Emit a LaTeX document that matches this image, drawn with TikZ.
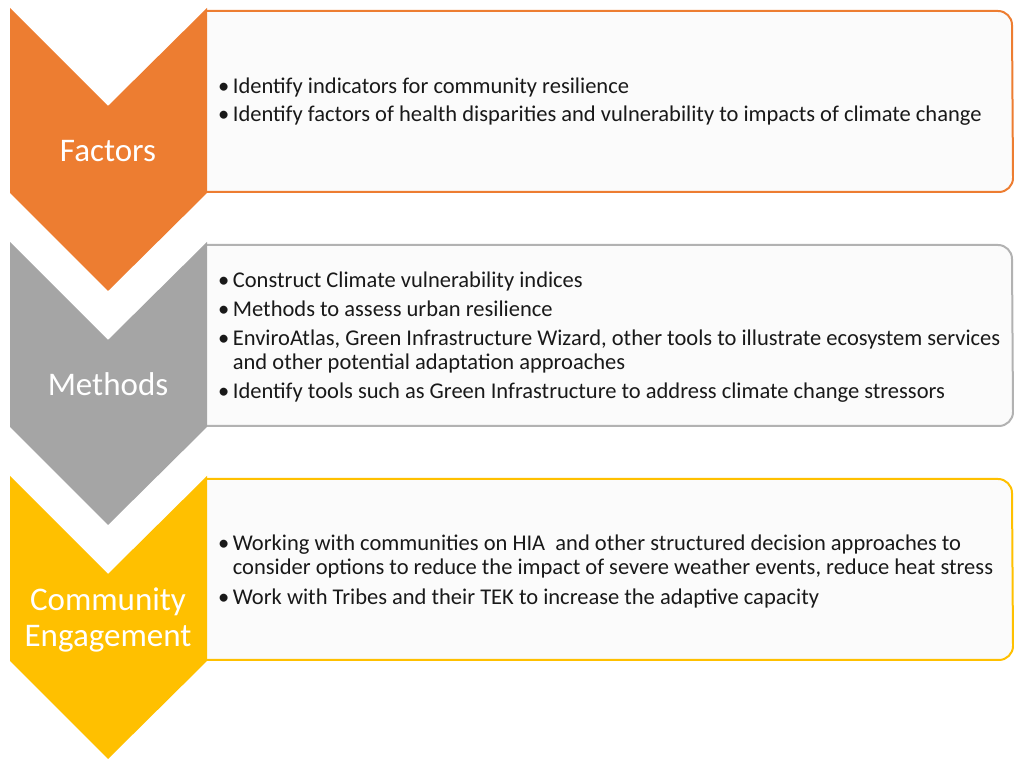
\documentclass[tikz,border=0pt]{standalone}
\usepackage{fontspec}
\setmainfont{Carlito}
\usepackage{xcolor}
\definecolor{factorsorange}{RGB}{237,125,49}
\definecolor{methodsgrey}{RGB}{165,165,165}
\definecolor{engageyellow}{RGB}{255,192,0}
\definecolor{boxfill}{RGB}{251,251,251}
\usepackage{tikz}
\usetikzlibrary{positioning}

\begin{document}
\begin{tikzpicture}[x=1pt,y=1pt,
    chevron/.style={fill=#1},
    listbox/.style={draw=#1,line width=2pt,fill=boxfill},
    steplabel/.style={text=white,align=center,font=\fontsize{33}{36}\selectfont},
    itemtext/.style={anchor=west,inner sep=0pt,text=black!90,font=\fontsize{22.5}{24}\selectfont}]
  \useasboundingbox (0,0) rectangle (1014,759);

  % Factors
  \begin{scope}[yshift=751pt]
    \filldraw[listbox=factorsorange] (207,-3) -- (998,-3) arc[start angle=90,end angle=0,radius=14]
      -- (1013,-170) arc[start angle=0,end angle=-90,radius=14] -- (207,-184);
    \fill[chevron=factorsorange] (10,0) -- (108,-98) -- (207,0) -- (207,-185) -- (108,-283) -- (10,-185) -- cycle;
    \node[steplabel] (factors) at (108,-143) {Factors};
    \node[itemtext] (factorslist) at (218,-95) {%
      \begin{tabular}{@{}l@{\hspace{3.5pt}}l@{}}
        \textbullet & Identify indicators for community resilience \\[4pt]
        \textbullet & Identify factors of health disparities and vulnerability to impacts of climate change \\
      \end{tabular}};
  \end{scope}

  % Methods
  \begin{scope}[yshift=517pt]
    \filldraw[listbox=methodsgrey!85] (207,-3) -- (998,-3) arc[start angle=90,end angle=0,radius=14]
      -- (1013,-170) arc[start angle=0,end angle=-90,radius=14] -- (207,-184);
    \fill[chevron=methodsgrey] (10,0) -- (108,-98) -- (207,0) -- (207,-185) -- (108,-283) -- (10,-185) -- cycle;
    \node[steplabel] (methods) at (108,-142) {Methods};
    \node[itemtext] (methodslist) at (218,-96) {%
      \begin{tabular}{@{}l@{\hspace{3.5pt}}l@{}}
        \textbullet & Construct Climate vulnerability indices \\[5pt]
        \textbullet & Methods to assess urban resilience \\[5pt]
        \textbullet & EnviroAtlas, Green Infrastructure Wizard, other tools to illustrate ecosystem services \\
                    & and other potential adaptation approaches \\[5pt]
        \textbullet & Identify tools such as Green Infrastructure to address climate change stressors \\
      \end{tabular}};
  \end{scope}

  % Community Engagement
  \begin{scope}[yshift=283pt]
    \filldraw[listbox=engageyellow] (207,-3) -- (998,-3) arc[start angle=90,end angle=0,radius=14]
      -- (1013,-170) arc[start angle=0,end angle=-90,radius=14] -- (207,-184);
    \fill[chevron=engageyellow] (10,0) -- (108,-98) -- (207,0) -- (207,-185) -- (108,-283) -- (10,-185) -- cycle;
    \node[steplabel] (engagement) at (108,-144) {Community\\Engagement};
    \node[itemtext] (engagementlist) at (218,-97) {%
      \begin{tabular}{@{}l@{\hspace{3.5pt}}l@{}}
        \textbullet & Working with communities on HIA \ and other structured decision approaches to \\
                    & consider options to reduce the impact of severe weather events, reduce heat stress \\[6pt]
        \textbullet & Work with Tribes and their TEK to increase the adaptive capacity \\
      \end{tabular}};
  \end{scope}
\end{tikzpicture}
\end{document}
